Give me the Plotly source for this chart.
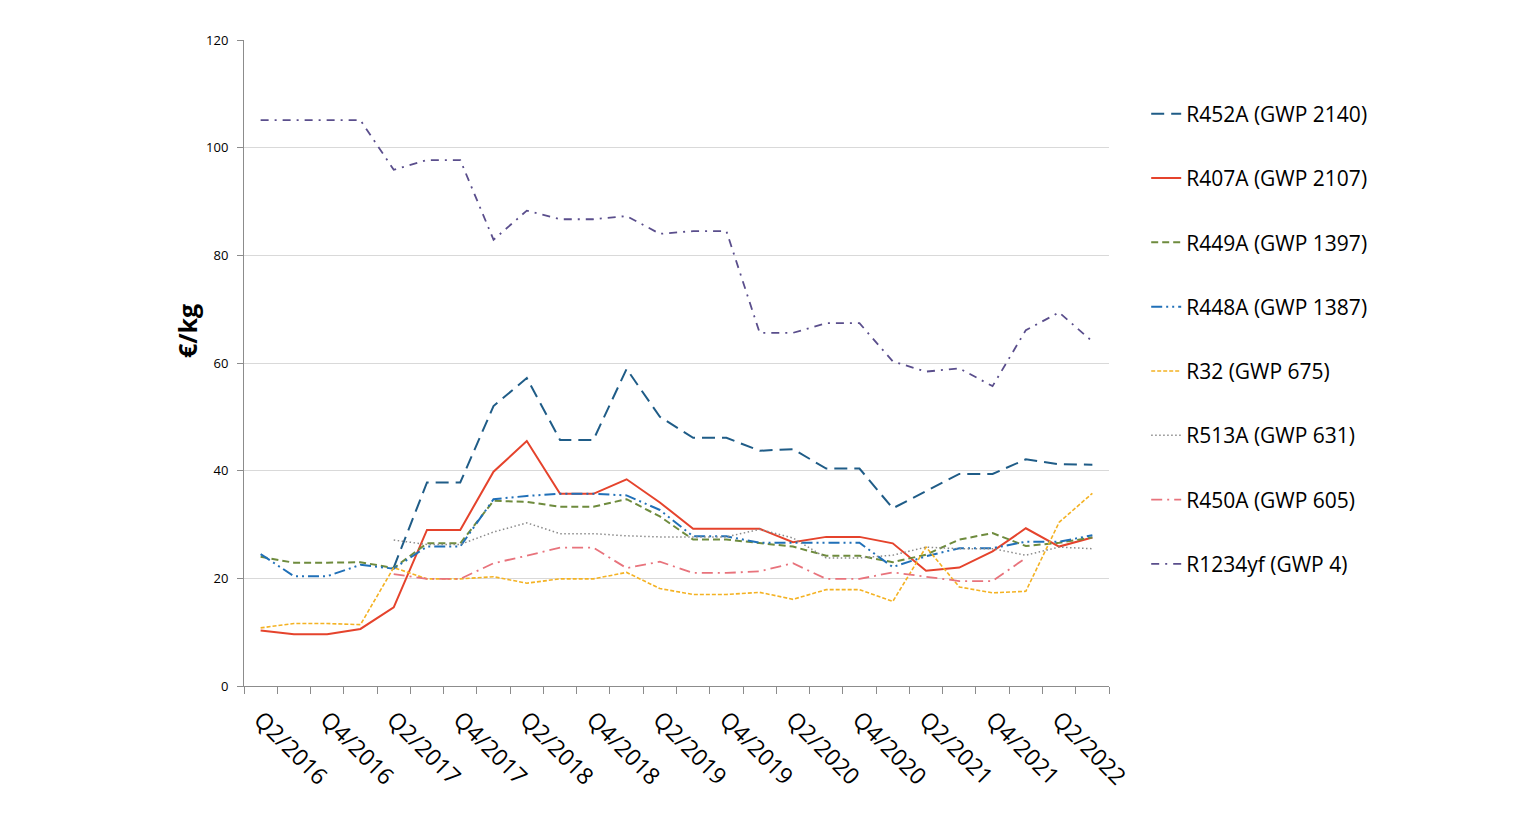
import plotly.graph_objects as go

quarters = ["Q2/2016", "Q3/2016", "Q4/2016", "Q1/2017", "Q2/2017", "Q3/2017", "Q4/2017",
            "Q1/2018", "Q2/2018", "Q3/2018", "Q4/2018", "Q1/2019", "Q2/2019", "Q3/2019",
            "Q4/2019", "Q1/2020", "Q2/2020", "Q3/2020", "Q4/2020", "Q1/2021", "Q2/2021",
            "Q3/2021", "Q4/2021", "Q1/2022", "Q2/2022", "Q3/2022"]

R452A = [None, None, None, None, 22.0, 37.8, 37.8, 52.0, 57.2, 45.7, 45.7, 58.9, 50.0, 46.1,
         46.1, 43.7, 44.0, 40.4, 40.4, 33.0, 36.2, 39.4, 39.4, 42.1, 41.2, 41.1]
R407A = [10.3, 9.6, 9.6, 10.6, 14.6, 29.0, 29.0, 39.8, 45.5, 35.7, 35.7, 38.4, 34.1, 29.2,
         29.2, 29.2, 26.7, 27.7, 27.7, 26.5, 21.4, 22.0, 25.0, 29.3, 25.9, 27.6]
R449A = [24.0, 22.9, 22.9, 23.0, 21.9, 26.5, 26.5, 34.4, 34.2, 33.3, 33.3, 34.7, 31.5, 27.2,
         27.2, 26.5, 25.9, 24.2, 24.2, 23.0, 24.4, 27.2, 28.4, 26.0, 26.6, 27.6]
R448A = [24.5, 20.4, 20.4, 22.5, 21.8, 25.9, 25.9, 34.7, 35.3, 35.7, 35.7, 35.4, 32.7, 27.8,
         27.8, 26.6, 26.6, 26.6, 26.6, 22.1, 24.1, 25.6, 25.6, 26.8, 26.8, 28.0]
R32 = [10.8, 11.6, 11.6, 11.4, 22.0, 19.9, 19.9, 20.3, 19.1, 19.9, 19.9, 21.1, 18.1, 17.0,
       17.0, 17.4, 16.1, 17.9, 17.9, 15.7, 25.8, 18.4, 17.3, 17.6, 30.4, 35.8]
R513A = [None, None, None, None, 27.1, 26.3, 26.3, 28.6, 30.3, 28.3, 28.3, 27.9, 27.7, 27.7,
         27.7, 29.1, 27.5, 23.8, 23.8, 24.3, 25.8, 25.5, 25.5, 24.3, 25.8, 25.5]
R450A = [None, None, None, None, 20.8, 19.9, 19.9, 22.8, 24.2, 25.7, 25.7, 21.9, 23.1, 21.0,
         21.0, 21.3, 22.8, 19.9, 19.9, 21.1, 20.3, 19.5, 19.5, 23.8, None, None]
R1234yf = [105.1, 105.1, 105.1, 105.1, 95.9, 97.7, 97.7, 82.9, 88.3, 86.7, 86.7, 87.3, 84.0,
           84.5, 84.5, 65.6, 65.6, 67.4, 67.4, 60.3, 58.4, 59.0, 55.7, 66.1, 69.4, 64.0]

series_names = ["R452A (GWP 2140)", "R407A (GWP 2107)", "R449A (GWP 1397)", "R448A (GWP 1387)",
                "R32 (GWP 675)", "R513A (GWP 631)", "R450A (GWP 605)", "R1234yf (GWP 4)"]
series_values = [R452A, R407A, R449A, R448A, R32, R513A, R450A, R1234yf]
styles = [
    dict(color="#1F5C87", width=2, dash="13px,7px"),
    dict(color="#E5432C", width=2, dash="solid"),
    dict(color="#6E8B3D", width=2, dash="7px,4px"),
    dict(color="#2070B8", width=2, dash="11px,4px,2px,4px,2px,4px"),
    dict(color="#F4B223", width=1.6, dash="4px,2px"),
    dict(color="#8A8A8A", width=1.5, dash="1.5px,2.5px"),
    dict(color="#E8737C", width=1.8, dash="11px,5px,2px,5px"),
    dict(color="#5A4E8C", width=1.8, dash="8px,6px,2px,6px"),
]

x_idx = list(range(len(quarters)))

fig = go.Figure()
for i, (name, vals, st) in enumerate(zip(series_names, series_values, styles)):
    fig.add_trace(go.Scatter(
        x=x_idx, y=vals, name=name, mode="lines", line=st,
        connectgaps=False, legendgroup=f"g{i}",
        customdata=[quarters[k] for k in x_idx],
        hovertemplate="%{customdata}: %{y}<extra>" + name + "</extra>",
    ))

font_family = "Open Sans, Liberation Sans, Arial, sans-serif"

# page body has an 8px margin, so the figure is sized/offset to compensate
fig.update_layout(
    width=1499, height=805,
    margin=dict(l=236, r=398, t=32, b=127),
    paper_bgcolor="white", plot_bgcolor="white",
    font=dict(family=font_family, color="#000000"),
    showlegend=True,
    legend=dict(
        x=1.043, y=0.917, xanchor="left", yanchor="top",
        font=dict(size=21, color="#000000", family=font_family),
        tracegroupgap=34, itemwidth=30, bgcolor="rgba(0,0,0,0)",
    ),
    xaxis=dict(
        range=[-0.5, len(quarters) - 0.5],
        tickmode="array",
        tickvals=x_idx[::2],
        ticktext=quarters[::2],
        tickangle=45,
        ticks="",
        tickfont=dict(size=23, color="#000000"),
        ticklabelstandoff=10,
        showgrid=False,
        showline=True, linecolor="#8C8C8C", linewidth=1,
        zeroline=False,
        minor=dict(
            tickmode="array",
            tickvals=[k - 0.5 for k in range(len(quarters) + 1)],
            ticks="outside", ticklen=7, tickcolor="#8C8C8C", tickwidth=1,
            showgrid=False,
        ),
    ),
    yaxis=dict(
        range=[0, 120], dtick=20, tick0=0,
        ticks="outside", ticklen=6, tickcolor="#8C8C8C",
        tickfont=dict(size=13, color="#000000"),
        ticklabelstandoff=6,
        showgrid=True, gridcolor="#D9D9D9", gridwidth=1,
        showline=True, linecolor="#8C8C8C", linewidth=1,
        zeroline=False,
    ),
    annotations=[dict(
        text="<b>€/kg</b>", textangle=-90,
        xref="paper", yref="paper",
        x=(187 - 244) / 865, y=(686 - 331) / 646,
        xanchor="center", yanchor="middle",
        showarrow=False, font=dict(size=25, color="#000000"),
    )],
)

fig.write_html("out.html")
